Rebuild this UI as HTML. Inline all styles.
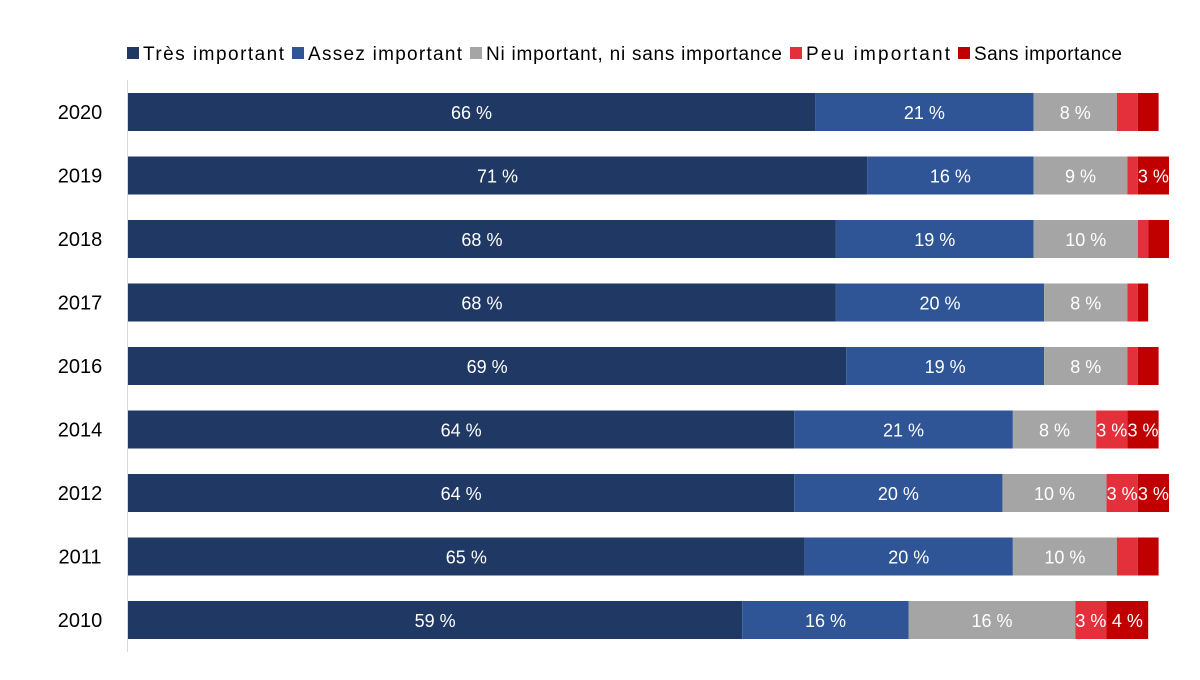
<!DOCTYPE html>
<html><head><meta charset="utf-8"><style>
body{margin:0;background:#fff;font-family:"Liberation Sans",Arial,sans-serif;}
svg text{font-family:"Liberation Sans",Arial,sans-serif;}
</style></head><body>
<svg id="chart" width="1200" height="675"></svg>
<script>
const years=["2020","2019","2018","2017","2016","2014","2012","2011","2010"];
const tres=[66,71,68,68,69,64,64,65,59];
const assez=[21,16,19,20,19,21,20,20,16];
const ni=[8,9,10,8,8,8,10,10,16];
const peu=[2,1,1,1,1,3,3,2,3];
const sans=[2,3,2,1,2,3,3,2,4];
const seriesNames=["Très important","Assez important","Ni important, ni sans importance","Peu important","Sans importance"];
const colors=["#203864","#2F5597","#A5A5A5","#E3303B","#C00000"];
const series=[tres,assez,ni,peu,sans];
const legendX=[127,292,470,790,958];
const svg=document.getElementById('chart');
const NS="http://www.w3.org/2000/svg";
const x0=128,pxPer=10.41,y0=112,step=63.5,bh=38;
const xs=v=>x0+v*pxPer;
const ys=i=>y0+i*step;
function mk(t,a){const e=document.createElementNS(NS,t);for(const k in a)e.setAttribute(k,a[k]);svg.appendChild(e);return e;}
const ax=mk('line',{x1:127.5,x2:127.5,y1:80,y2:652,stroke:'#d9d9d9','stroke-width':1});


years.forEach((yr,i)=>{
  const t=mk('text',{x:80,y:ys(i)+7,'text-anchor':'middle','font-size':20,fill:'#000'});
  t.textContent=yr;
  
  
  let cum=0;
  series.forEach((s,k)=>{
    const v=s[i];
    const r=mk('rect',{x:xs(cum),y:ys(i)-bh/2,width:v*pxPer,height:bh,fill:colors[k]});
    
    
    if(v>=3){
      const l=mk('text',{x:xs(cum+v/2),y:ys(i)+7,'text-anchor':'middle','font-size':18,fill:'#fff'});
      l.textContent=v+' %';
      
      
    }
    cum+=v;
  });
});
const legendEnds=[292,470,790,958,1130];
seriesNames.forEach((n,k)=>{
  const lx=legendX[k];
  const sq=mk('rect',{x:lx,y:47,width:12,height:12,fill:colors[k]});
  
  
  const t=mk('text',{x:lx+16,y:60,'font-size':19,fill:'#000'});
  t.textContent=n;
  
  
  const w=legendEnds[k]-lx-24;
  t.setAttribute('textLength',w);
  t.setAttribute('lengthAdjust','spacing');
});
</script>
</body></html>
